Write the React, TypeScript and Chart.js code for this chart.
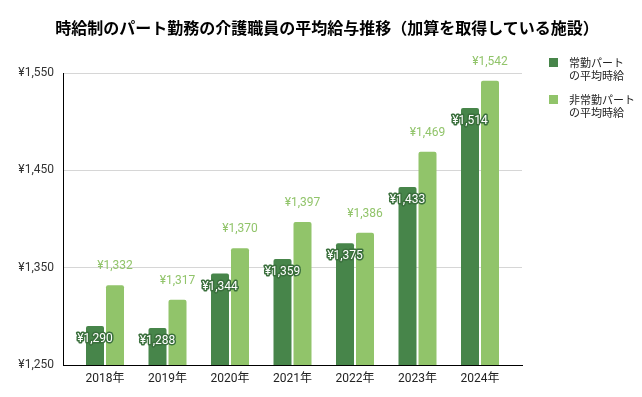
import React, { useEffect, useRef } from "react";
import { Chart, registerables } from "chart.js";

Chart.register(...registerables);

const TITLE = "時給制のパート勤務の介護職員の平均給与推移（加算を取得している施設）";
const categories = ["2018年", "2019年", "2020年", "2021年", "2022年", "2023年", "2024年"];
const seriesNames = ["常勤パート\nの平均時給", "非常勤パート\nの平均時給"];
const fullTimeValues = [1290, 1288, 1344, 1359, 1375, 1433, 1514];
const partTimeValues = [1332, 1317, 1370, 1397, 1386, 1469, 1542];
const yTicks = [1250, 1350, 1450, 1550];

const DARK = "#47854a";
const LIGHT = "#91c46a";
const FONT = "Roboto, 'Noto Sans CJK JP', sans-serif";

const fmt = (v: number) => "¥" + v.toLocaleString("en-US");

const labelPlugin = {
  id: "valueLabels",
  afterDatasetsDraw(chart: any) {
    const ctx = chart.ctx;
    ctx.save();
    ctx.font = `12px ${FONT}`;
    ctx.textAlign = "center";
    ctx.textBaseline = "middle";
    chart.data.datasets.forEach((ds: any, di: number) => {
      const meta = chart.getDatasetMeta(di);
      meta.data.forEach((el: any, i: number) => {
        const txt = fmt(ds.data[i]);
        if (di === 0) {
          const y = el.y + 13;
          ctx.lineJoin = "round";
          ctx.lineWidth = 3;
          ctx.strokeStyle = "#3a6f3c";
          ctx.strokeText(txt, el.x, y);
          ctx.fillStyle = "#ffffff";
          ctx.fillText(txt, el.x, y);
        } else {
          ctx.fillStyle = LIGHT;
          ctx.fillText(txt, el.x, el.y - 19);
        }
      });
    });
    ctx.restore();
  },
};

export default function App() {
  const ref = useRef<HTMLCanvasElement>(null);
  useEffect(() => {
    if (!ref.current) return;
    const chart = new Chart(ref.current, {
      type: "bar",
      data: {
        labels: categories,
        datasets: [
          {
            label: seriesNames[0],
            data: fullTimeValues,
            backgroundColor: DARK,
            borderRadius: { topLeft: 2, topRight: 2, bottomLeft: 0, bottomRight: 0 },
            borderSkipped: false,
            categoryPercentage: 0.64,
            barPercentage: 0.9,
          },
          {
            label: seriesNames[1],
            data: partTimeValues,
            backgroundColor: LIGHT,
            borderRadius: { topLeft: 2, topRight: 2, bottomLeft: 0, bottomRight: 0 },
            borderSkipped: false,
            categoryPercentage: 0.64,
            barPercentage: 0.9,
          },
        ],
      },
      options: {
        responsive: false,
        animation: false,
        layout: { padding: { left: 0, right: 120, top: 73, bottom: 0 } },
        plugins: {
          legend: { display: false },
          tooltip: { enabled: false },
          title: { display: false },
        },
        scales: {
          x: {
            type: "category",
            offset: true,
            grid: { display: false, drawTicks: false },
            border: { display: true, color: "#000", width: 1 },
            ticks: { color: "#222", font: { family: FONT, size: 12 }, padding: 7 },
            afterBuildTicks: (scale: any) => {
              scale._startValue = -0.672;
              scale._valueRange = 7.344;
            },
            afterFit: (scale: any) => {
              scale.height = 32;
            },
          },
          y: {
            min: 1250,
            max: 1550,
            grid: { color: "#d6d6d6", drawTicks: false },
            border: { display: true, color: "#000", width: 1 },
            afterBuildTicks: (scale: any) => {
              scale.ticks = yTicks.map((v) => ({ value: v }));
            },
            afterFit: (scale: any) => {
              scale.width = 63;
            },
            ticks: {
              color: "#333",
              font: { family: FONT, size: 12 },
              padding: 9,
              callback: (v: any) => fmt(Number(v)),
            },
          },
        },
      },
      plugins: [labelPlugin],
    });
    return () => chart.destroy();
  }, []);

  const legendItem = (color: string, text: string, top: number) => (
    <div style={{ position: "absolute", left: 549, top, display: "flex" }}>
      <div style={{ width: 9, height: 9, background: color, marginTop: 1 }} />
      <div
        style={{
          marginLeft: 11,
          fontFamily: "'Noto Sans CJK JP', sans-serif",
          fontSize: 11,
          lineHeight: "12.5px",
          color: "#222",
          whiteSpace: "pre",
          marginTop: -1,
        }}
      >
        {text}
      </div>
    </div>
  );

  return (
    <div style={{ position: "absolute", left: 0, top: 0, width: 642, height: 397, background: "#fff" }}>
      <canvas ref={ref} width={642} height={397} style={{ display: "block" }} />
      <div
        style={{
          position: "absolute",
          left: 6,
          top: 17,
          width: 642,
          textAlign: "center",
          fontFamily: "'Noto Sans CJK JP', sans-serif",
          fontWeight: "bold",
          fontSize: 16,
          lineHeight: "20px",
          color: "#000",
          whiteSpace: "nowrap",
        }}
      >
        {TITLE}
      </div>
      {legendItem(DARK, seriesNames[0], 57)}
      {legendItem(LIGHT, seriesNames[1], 94)}
    </div>
  );
}
